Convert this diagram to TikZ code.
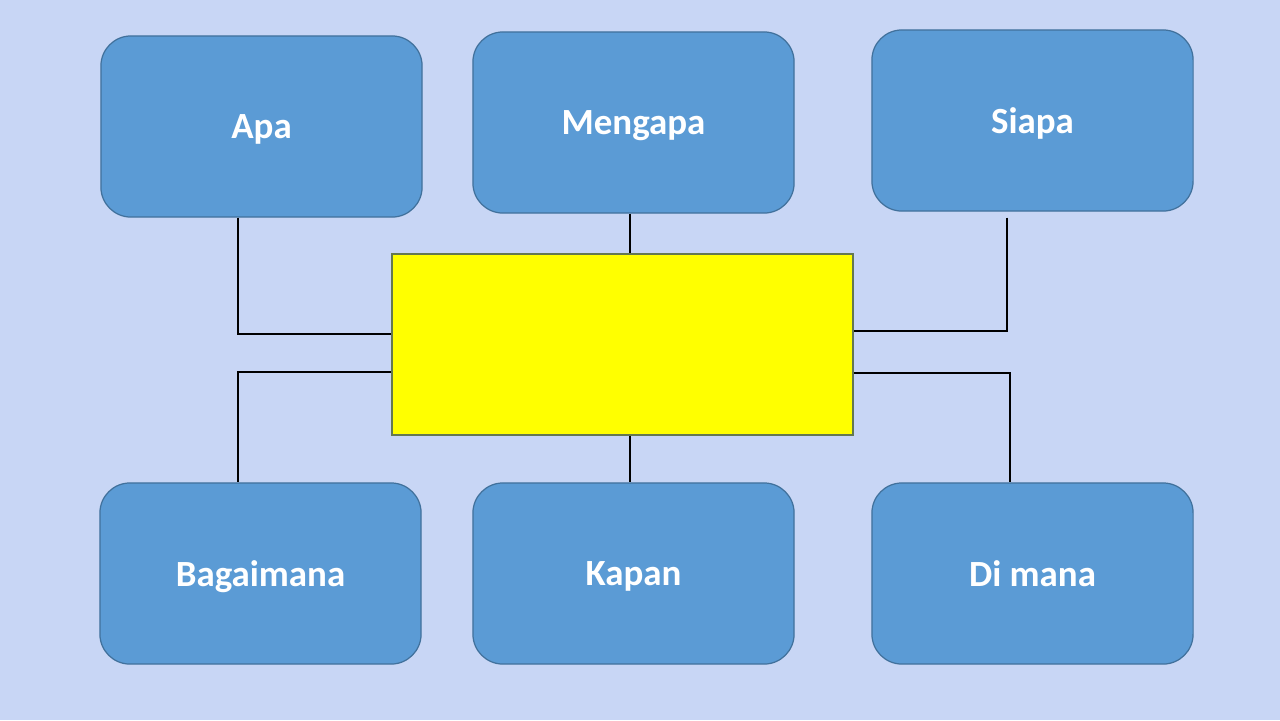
\documentclass[tikz,border=0pt]{standalone}
\usepackage{fontspec}
\setmainfont{Carlito}
\usetikzlibrary{calc}
\definecolor{latar}{RGB}{200,214,245}
\definecolor{kotak}{RGB}{91,155,213}
\definecolor{tepi}{RGB}{65,113,156}
\definecolor{kuning}{RGB}{255,255,0}
\definecolor{tepikuning}{RGB}{100,120,80}
\begin{document}
\begin{tikzpicture}[x=0.01cm,y=-0.01cm,font=\fontsize{10.5}{12}\selectfont\bfseries,
	tanya/.style={draw=tepi,line width=0.35pt,fill=kotak,rounded corners=0.3cm,minimum width=3.21cm,minimum height=1.81cm,text=white,text depth=0pt},
	pusat/.style={draw=tepikuning,line width=0.45pt,fill=kuning,minimum width=4.61cm,minimum height=1.81cm},
	garis/.style={line width=0.4pt,black}]
	\fill[latar] (0,0) rectangle (1280,720);
	\useasboundingbox (0,0) rectangle (1280,720);
	\node[pusat] (tengah) at (622.5,344.5) {};
	\node[tanya] (apa) at (261.5,126.5) {Apa};
	\node[tanya] (mengapa) at (633.5,122.5) {Mengapa};
	\node[tanya] (siapa) at (1032.5,120.5) {Siapa};
	\node[tanya] (bagaimana) at (260.5,573.5) {Bagaimana};
	\node[tanya] (kapan) at (633.5,573.5) {Kapan};
	\node[tanya] (dimana) at (1032.5,573.5) {Di mana};
	\draw[garis] ($(apa.south)+(-23.5,0)$) |- ($(tengah.west)+(0,-10.5)$);
	\draw[garis] ($(mengapa.south)+(-3.5,0)$) -- ($(tengah.north)+(7.5,0)$);
	\draw[garis] ($(siapa.south)+(-25.5,6)$) |- ($(tengah.east)+(0,-13.5)$);
	\draw[garis] ($(tengah.west)+(0,27.5)$) -| ($(bagaimana.north)+(-22.5,0)$);
	\draw[garis] ($(tengah.south)+(7.5,0)$) -- ($(kapan.north)+(-3.5,0)$);
	\draw[garis] ($(tengah.east)+(0,28.5)$) -| ($(dimana.north)+(-22.5,0)$);
\end{tikzpicture}
\end{document}
